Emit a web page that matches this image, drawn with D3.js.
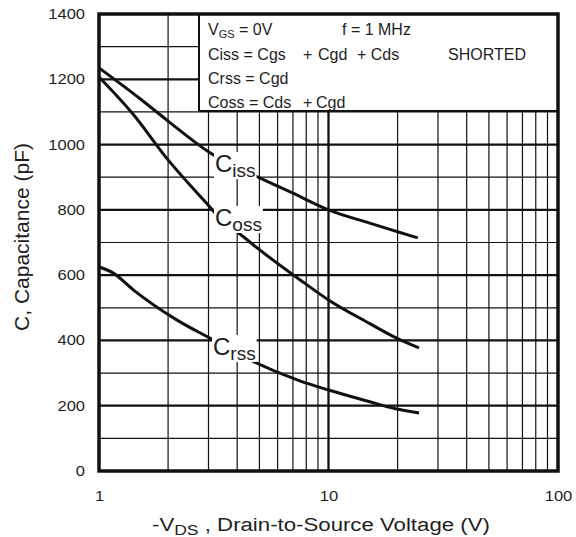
<!DOCTYPE html>
<html>
<head>
<meta charset="utf-8">
<script src="https://cdn.jsdelivr.net/npm/d3@7"></script>
<style>
  html, body { margin: 0; padding: 0; background: #fff; }
  svg { display: block; font-family: "Liberation Sans", Arial, Helvetica, sans-serif; }
</style>
</head>
<body>
<svg id="chart" width="576" height="537"></svg>
<script>
// Drain-source voltage (V) and capacitances (pF) for each curve
const vdsIss = [1, 1.5, 2, 3, 3.56, 4.93, 7, 10, 15, 20, 24.5];
const ciss   = [1235, 1142, 1072, 978, 946, 900, 851, 800, 760, 733, 714];

const vdsOss = [1, 1.4, 2, 3.04, 3.43, 4.11, 5, 7.5, 10, 15, 19.8, 24.8];
const coss   = [1207, 1095, 953, 809, 768, 726, 678, 586, 524, 453, 407, 377];

const vdsRss = [1, 1.15, 1.41, 2.18, 3.04, 4.55, 7.5, 10, 15, 19.8, 24.8];
const crss   = [625, 607, 555, 463, 407, 340, 276, 248, 213, 190, 178];

const xTickValues = [1, 10, 100];
const yTickValues = [0, 200, 400, 600, 800, 1000, 1200, 1400];

const svg = d3.select("#chart");
const ink = "#111";
const textInk = "#1e1e1e";

const x = d3.scaleLog().domain([1, 100]).range([99, 558]);
const y = d3.scaleLinear().domain([0, 1400]).range([471, 14]);

// grid: heavier lines every 200 pF and at 10 V
const grid = svg.append("g");
grid.selectAll("line.h")
  .data(y.ticks(14))
  .join("line")
  .attr("x1", x(1)).attr("x2", x(100))
  .attr("y1", d => y(d)).attr("y2", d => y(d))
  .attr("stroke", ink)
  .attr("stroke-width", d => d % 200 === 0 ? 2.2 : 1.2);

grid.selectAll("line.v")
  .data(x.ticks())
  .join("line")
  .attr("x1", d => x(d)).attr("x2", d => x(d))
  .attr("y1", y(0)).attr("y2", y(1400))
  .attr("stroke", ink)
  .attr("stroke-width", d => d === 10 ? 2.3 : 1.2);

// curves
const line = d3.line().curve(d3.curveMonotoneX);
const series = [
  { v: vdsIss, c: ciss },
  { v: vdsOss, c: coss },
  { v: vdsRss, c: crss }
];
svg.append("g").selectAll("path")
  .data(series)
  .join("path")
  .attr("d", s => line(s.v.map((v, i) => [x(v), y(s.c[i])])))
  .attr("fill", "none")
  .attr("stroke", ink)
  .attr("stroke-width", 3);

// curve labels with white backing
const curveLabels = [
  { sub: "iss", tx: 215, ty: 172 },
  { sub: "oss", tx: 215, ty: 226 },
  { sub: "rss", tx: 213, ty: 355 }
];
const labelG = svg.append("g");
curveLabels.forEach(l => {
  const g = labelG.append("g");
  const t = g.append("text")
    .attr("x", l.tx).attr("y", l.ty)
    .attr("fill", textInk);
  t.append("tspan").attr("font-size", 24).text("C");
  t.append("tspan").attr("font-size", 19).attr("dy", 5).text(l.sub);
  const b = t.node().getBBox();
  g.insert("rect", "text")
    .attr("x", b.x - 1).attr("y", b.y + 2)
    .attr("width", b.width + 2).attr("height", b.height - 4)
    .attr("fill", "#fff");
});

// test-conditions box
const box = svg.append("g");
box.append("rect")
  .attr("x", 199).attr("y", 14)
  .attr("width", 558 - 199).attr("height", 111 - 14)
  .attr("fill", "#fff")
  .attr("stroke", ink).attr("stroke-width", 2);

const bt = (xp, yp, s) => box.append("text")
  .attr("x", xp).attr("y", yp)
  .attr("font-size", 16).attr("fill", textInk).text(s);

const vgs = box.append("text").attr("x", 208).attr("y", 35)
  .attr("font-size", 16).attr("fill", textInk);
vgs.append("tspan").text("V");
vgs.append("tspan").attr("font-size", 11).attr("dy", 3).text("GS");
vgs.append("tspan").attr("dy", -3).text(" = 0V");
bt(342, 35, "f = 1 MHz");

bt(208, 60, "Ciss = Cgs");
bt(303, 60, "+");
bt(318, 60, "Cgd");
bt(357, 60, "+ Cds");
bt(448, 60, "SHORTED");

bt(208, 84, "Crss = Cgd");

bt(208, 108, "Coss = Cds");
bt(303, 108, "+");
bt(316, 108, "Cgd");

// frame
svg.append("rect")
  .attr("x", x(1)).attr("y", y(1400))
  .attr("width", x(100) - x(1)).attr("height", y(0) - y(1400))
  .attr("fill", "none")
  .attr("stroke", ink).attr("stroke-width", 3.5);

// axes (labels only; the grid carries the lines)
const stretch = 1.18;
const yAxis = svg.append("g")
  .attr("transform", `translate(${x(1)},0)`)
  .call(d3.axisLeft(y).tickValues(yTickValues).tickFormat(d3.format("d")).tickSize(0).tickPadding(14));
yAxis.select(".domain").remove();
yAxis.selectAll("text")
  .attr("x", 0)
  .attr("transform", `translate(-14,0) scale(${stretch},1)`)
  .attr("font-size", 14)
  .attr("font-family", "Liberation Sans, Arial, sans-serif")
  .attr("fill", textInk);

const xAxis = svg.append("g")
  .attr("transform", `translate(0,${y(0)})`)
  .call(d3.axisBottom(x).tickValues(xTickValues).tickFormat(d3.format("d")).tickSize(0).tickPadding(20));
xAxis.select(".domain").remove();
xAxis.selectAll("text")
  .attr("x", 0)
  .attr("transform", `scale(${stretch},1)`)
  .attr("font-size", 14)
  .attr("font-family", "Liberation Sans, Arial, sans-serif")
  .attr("fill", textInk);

// axis titles
const xt = svg.append("g").attr("transform", `translate(152,531) scale(1.17,1)`)
  .append("text").attr("font-size", 19).attr("fill", textInk);
xt.append("tspan").text("-V");
xt.append("tspan").attr("font-size", 15).attr("dy", 4).text("DS");
xt.append("tspan").attr("dy", -4).text(" , Drain-to-Source Voltage (V)");

svg.append("text")
  .attr("transform", "translate(29,237) rotate(-90)")
  .attr("text-anchor", "middle")
  .attr("font-size", 21)
  .attr("fill", textInk)
  .text("C, Capacitance (pF)");
</script>
</body>
</html>
